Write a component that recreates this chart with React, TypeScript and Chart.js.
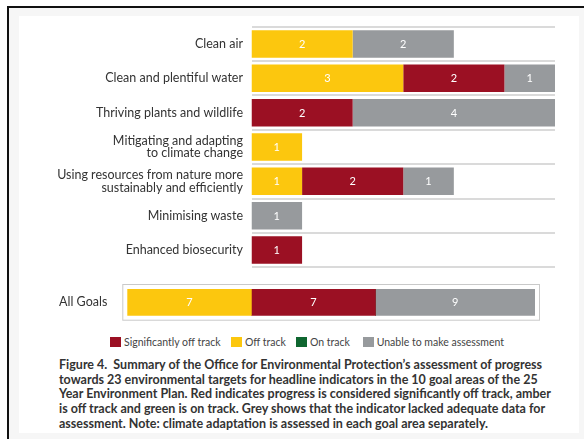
import React, { useEffect, useRef } from "react";
import { Chart, registerables } from "chart.js";

Chart.register(...registerables);

const goals: (string | string[])[] = [
  "Clean air",
  "Clean and plentiful water",
  "Thriving plants and wildlife",
  ["Mitigating and adapting", "to climate change"],
  ["Using resources from nature more", "sustainably and efficiently"],
  "Minimising waste",
  "Enhanced biosecurity",
];
const offTrack = [2, 3, 0, 1, 1, 0, 0];
const sigOffTrack = [0, 2, 2, 0, 2, 0, 1];
const onTrack = [0, 0, 0, 0, 0, 0, 0];
const unable = [2, 1, 4, 0, 1, 1, 0];

const allLabel = ["All Goals"];
const allOffTrack = [7];
const allSigOffTrack = [7];
const allOnTrack = [0];
const allUnable = [9];

const seriesNames = ["Off track", "Significantly off track", "On track", "Unable to make assessment"];
const seriesColors = ["#FCC70E", "#9B1023", "#0F6630", "#979A9D"];
const legendOrder = [1, 0, 2, 3];

const captionLines = [
  "Figure 4.\u00a0 Summary of the Office for Environmental Protection\u2019s assessment of progress",
  "towards 23 environmental targets for headline indicators in the 10 goal areas of the 25",
  "Year Environment Plan. Red indicates progress is considered significantly off track, amber",
  "is off track and green is on track. Grey shows that the indicator lacked adequate data for",
  "assessment. Note: climate adaptation is assessed in each goal area separately.",
];

const FONT = "Lato, 'Open Sans', sans-serif";

const valueLabels = {
  id: "valueLabels",
  afterDatasetsDraw(chart: any) {
    const ctx = chart.ctx;
    ctx.save();
    ctx.font = `11px ${FONT}`;
    ctx.fillStyle = "#ffffff";
    ctx.textAlign = "center";
    ctx.textBaseline = "middle";
    chart.data.datasets.forEach((ds: any, i: number) => {
      const meta = chart.getDatasetMeta(i);
      meta.data.forEach((bar: any, j: number) => {
        const v = ds.data[j];
        if (!v) return;
        const p = bar.getProps(["x", "y", "base"], true);
        ctx.fillText(String(v), (p.x + p.base) / 2, p.y + 0.5);
      });
    });
    ctx.restore();
  },
};

const boxPlugin = {
  id: "boxPlugin",
  beforeDatasetsDraw(chart: any) {
    const { ctx, chartArea } = chart;
    ctx.save();
    ctx.strokeStyle = "#c9c9c9";
    ctx.lineWidth = 1;
    ctx.strokeRect(chartArea.left - 4.5, chartArea.top - 4.5, chartArea.right - chartArea.left + 9, chartArea.bottom - chartArea.top + 9);
    ctx.restore();
  },
};

function makeDatasets(series: number[][], catPct: number) {
  return series.map((d, i) => ({
    label: seriesNames[i],
    data: d,
    backgroundColor: seriesColors[i],
    borderWidth: 0,
    categoryPercentage: catPct,
    barPercentage: 1,
  }));
}

function fitY(width: number) {
  return (s: any) => {
    s.width = width;
    s.paddingTop = 0;
    s.paddingBottom = 0;
  };
}

export default function App() {
  const mainRef = useRef<HTMLCanvasElement>(null);
  const allRef = useRef<HTMLCanvasElement>(null);

  useEffect(() => {
    Chart.defaults.font.family = FONT;
    const main = new Chart(mainRef.current!, {
      type: "bar",
      data: {
        labels: goals as any,
        datasets: makeDatasets([offTrack, sigOffTrack, onTrack, unable], 0.8) as any,
      },
      options: {
        indexAxis: "y",
        animation: false,
        responsive: false,
        maintainAspectRatio: false,
        layout: { padding: { left: 0, right: 29, top: 26.7, bottom: 12.7 } },
        plugins: { legend: { display: false }, tooltip: { enabled: false } },
        scales: {
          x: { display: false, stacked: true, min: 0, max: 6 },
          y: {
            stacked: true,
            afterFit: fitY(251.5),
            grid: { display: true, color: "#dadada", lineWidth: 2, drawTicks: false, offset: true },
            border: { display: false },
            ticks: {
              padding: 8.5,
              color: "#333333",
              font: { size: 12.5, family: FONT, lineHeight: 0.98 },
            },
          },
        },
      },
      plugins: [valueLabels],
    });

    const all = new Chart(allRef.current!, {
      type: "bar",
      data: {
        labels: allLabel,
        datasets: makeDatasets([allOffTrack, allSigOffTrack, allOnTrack, allUnable], 1) as any,
      },
      options: {
        indexAxis: "y",
        animation: false,
        responsive: false,
        maintainAspectRatio: false,
        layout: { padding: { left: 0, right: 49, top: 13, bottom: 12.3 } },
        plugins: { legend: { display: false }, tooltip: { enabled: false } },
        scales: {
          x: { display: false, stacked: true, min: 0, max: 23 },
          y: {
            stacked: true,
            afterFit: fitY(127.3),
            grid: { display: false, drawTicks: false },
            border: { display: false },
            ticks: {
              padding: 20,
              color: "#333333",
              font: { size: 12.5, family: FONT },
            },
          },
        },
      },
      plugins: [boxPlugin, valueLabels],
    });

    return () => {
      main.destroy();
      all.destroy();
    };
  }, []);

  const legendX = [110, 231, 296, 362.7];

  return (
    <div style={{ position: "absolute", left: 0, top: 0, width: 584, height: 439, background: "#ffffff", overflow: "hidden", fontFamily: FONT }}>
      <div
        style={{
          position: "absolute",
          left: 7,
          top: 6,
          width: 600,
          height: 460,
          background: "#f6f6f6",
          borderTop: "2.5px solid #111",
          borderLeft: "2.5px solid #111",
        }}
      />
      <div style={{ position: "absolute", left: 19, top: 16, width: 560, height: 417, background: "#ffffff" }} />
      <canvas ref={mainRef} width={584} height={280} style={{ position: "absolute", left: 0, top: 0, width: 584, height: 280 }} />
      <canvas ref={allRef} width={584} height={52} style={{ position: "absolute", left: 0, top: 276, width: 584, height: 52 }} />
      {legendOrder.map((i, k) => (
        <div
          key={k}
          style={{ position: "absolute", left: legendX[k], top: 335, height: 14, display: "flex", alignItems: "center", fontSize: 10.5, color: "#444", whiteSpace: "nowrap" }}
        >
          <span style={{ display: "inline-block", width: 11, height: 10, background: seriesColors[i], marginRight: 3 }} />
          <span>{seriesNames[i]}</span>
        </div>
      ))}
      <div style={{ position: "absolute", left: 59, top: 358, fontSize: 12.5, lineHeight: "14.7px", fontWeight: 700, color: "#333", whiteSpace: "nowrap" }}>
        {captionLines.map((l, i) => (
          <div key={i}>{l}</div>
        ))}
      </div>
    </div>
  );
}
